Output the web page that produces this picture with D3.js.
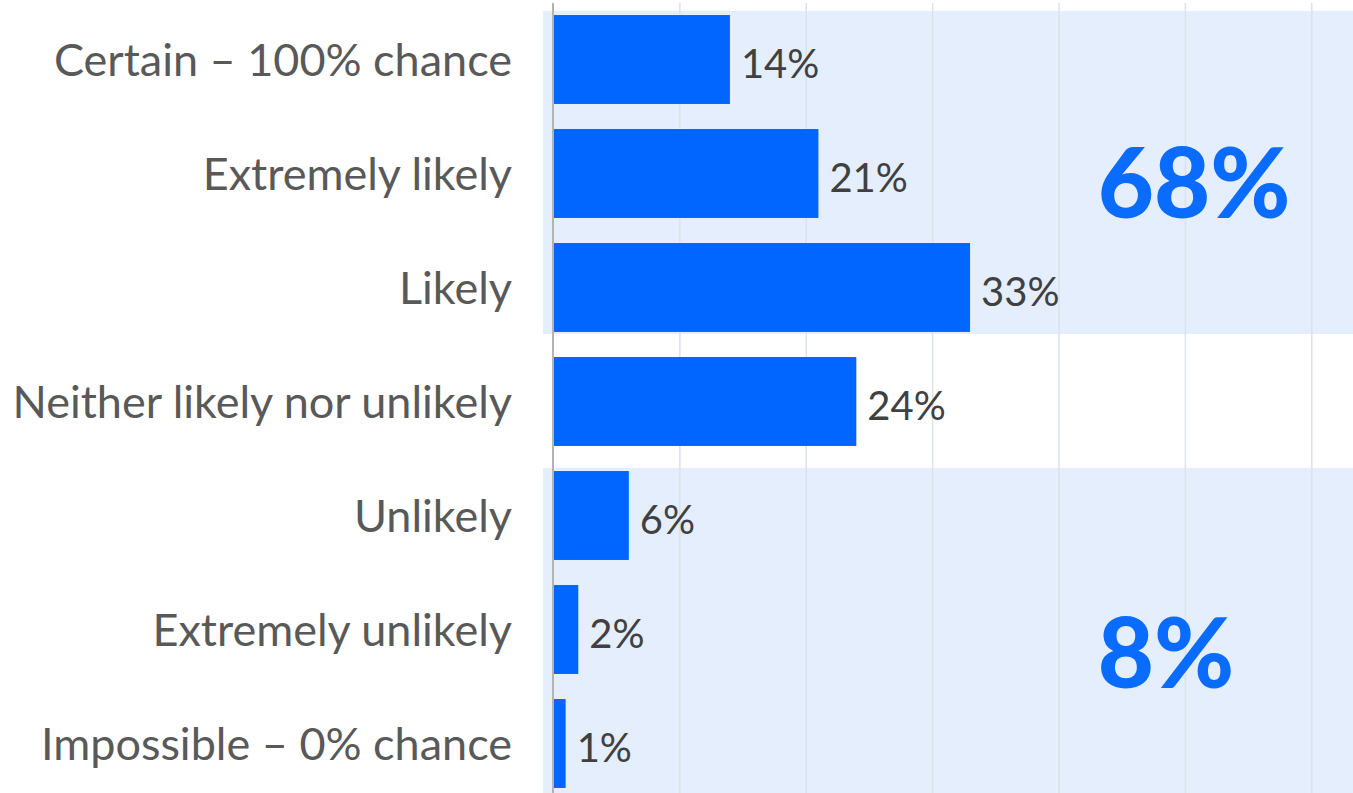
<!DOCTYPE html>
<html>
<head>
<meta charset="utf-8">
<script src="https://cdn.jsdelivr.net/npm/d3@7"></script>
<style>
  html, body { margin: 0; padding: 0; background: #ffffff; }
  svg { display: block; }
</style>
</head>
<body>
<svg id="chart" width="1353" height="793"></svg>
<script>
// Survey responses: how likely, share of respondents (%)
const categories = [
  "Certain – 100% chance",
  "Extremely likely",
  "Likely",
  "Neither likely nor unlikely",
  "Unlikely",
  "Extremely unlikely",
  "Impossible – 0% chance"
];
const values = [14, 21, 33, 24, 6, 2, 1];
const gridTicks = [0, 10, 20, 30, 40, 50, 60];

// Summary groups shaded behind the bars
const groupLikely = ["Certain – 100% chance", "Extremely likely", "Likely"];
const groupUnlikely = ["Unlikely", "Extremely unlikely", "Impossible – 0% chance"];
const groupTotals = [68, 8];

const W = 1353, H = 793;
const svg = d3.select("#chart");

const x = d3.scaleLinear().domain([0, 63.3]).range([553, 1353]);
const y = d3.scaleBand()
  .domain(categories)
  .range([2.5, 800.5])
  .paddingInner(0.22)
  .paddingOuter(0.11);

const barColor = "#0066ff";
const shadeColor = "#e4eefd";
const font = "Lato, 'Open Sans', sans-serif";

// shaded group backgrounds
const shadeLeft = x(0) - 10;
svg.append("rect")
  .attr("x", shadeLeft)
  .attr("y", y(groupLikely[0]) - 4)
  .attr("width", W - shadeLeft)
  .attr("height", (y(groupLikely[2]) + y.bandwidth() + 2) - (y(groupLikely[0]) - 4))
  .attr("fill", shadeColor);
svg.append("rect")
  .attr("x", shadeLeft)
  .attr("y", y(groupUnlikely[0]) - 3)
  .attr("width", W - shadeLeft)
  .attr("height", H - (y(groupUnlikely[0]) - 3))
  .attr("fill", shadeColor);

// vertical gridlines
const xAxis = d3.axisBottom(x)
  .tickValues(gridTicks.slice(1))
  .tickSize(-(H - 3))
  .tickFormat("");
svg.append("g")
  .attr("transform", `translate(0,${H})`)
  .call(xAxis)
  .call(g => g.select(".domain").remove())
  .call(g => g.selectAll(".tick line")
    .attr("stroke", "#dce2ea")
    .attr("stroke-width", 1.5));

// bars
svg.append("g")
  .selectAll("rect")
  .data(categories)
  .join("rect")
  .attr("x", x(0))
  .attr("y", d => y(d))
  .attr("width", (d, i) => x(values[i]) - x(0))
  .attr("height", y.bandwidth())
  .attr("fill", barColor);

// value axis line at zero
svg.append("line")
  .attr("x1", x(0)).attr("x2", x(0))
  .attr("y1", 3).attr("y2", H)
  .attr("stroke", "#b3b3b3")
  .attr("stroke-width", 2);

// category labels
const yAxis = d3.axisLeft(y).tickSize(0).tickPadding(0);
svg.append("g")
  .attr("transform", `translate(512,0)`)
  .call(yAxis)
  .call(g => g.select(".domain").remove())
  .call(g => g.selectAll(".tick text")
    .attr("font-family", font)
    .attr("font-size", 45)
    .attr("fill", "#595959")
    .attr("dy", "0.36em"));

// value labels
svg.append("g")
  .selectAll("text")
  .data(categories)
  .join("text")
  .attr("x", (d, i) => x(values[i]) + 11)
  .attr("y", d => y(d) + y.bandwidth() / 2 + 18)
  .attr("font-family", font)
  .attr("font-size", 40)
  .attr("fill", "#404040")
  .text((d, i) => values[i] + "%");

// group totals
const totalPos = [
  { cat: "Extremely likely", dy: 44 },
  { cat: "Extremely unlikely", dy: 58 }
];
svg.append("g")
  .selectAll("text")
  .data(groupTotals)
  .join("text")
  .attr("x", x(43.1))
  .attr("y", (d, i) => y(totalPos[i].cat) + y.bandwidth() / 2 + totalPos[i].dy)
  .attr("font-family", font)
  .attr("font-weight", 900)
  .attr("font-size", 97)
  .attr("fill", "#0a6cff")
  .text(d => d + "%");
</script>
</body>
</html>
